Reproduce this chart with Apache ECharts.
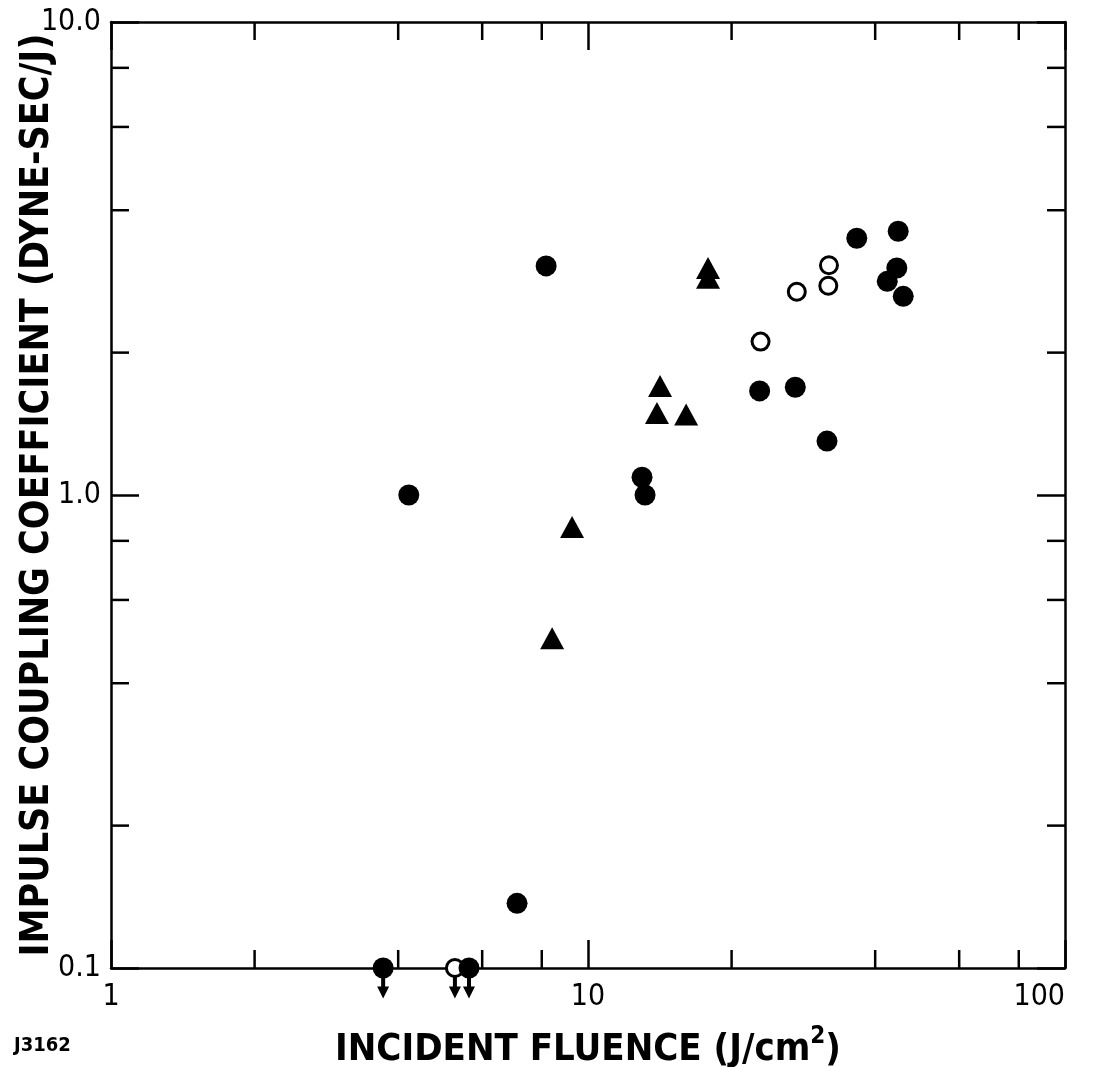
<!DOCTYPE html>
<html>
<head>
<meta charset="utf-8">
<script src="https://cdn.jsdelivr.net/npm/echarts@6/dist/echarts.min.js"></script>
<style>
html,body{margin:0;padding:0;background:#fff;}
#chart{width:1097px;height:1067px;}
</style>
</head>
<body>
<div id="chart"></div>
<script>
// ---- data ----
var filledCircles = [
  [4.21, 1.00], [8.17, 3.05], [7.10, 0.137], [3.72, 0.1], [5.63, 0.1],
  [12.98, 1.09], [13.17, 1.00], [22.9, 1.66], [27.2, 1.69], [31.7, 1.30],
  [36.6, 3.49], [44.7, 3.61], [42.4, 2.83], [44.4, 3.02], [45.8, 2.63]
];
var openCircles = [
  [23.0, 2.11], [27.4, 2.69], [32.0, 3.06], [31.9, 2.77], [5.26, 0.1]
];
var triangles = [
  [17.85, 3.02], [17.85, 2.88], [14.16, 1.70], [13.95, 1.49],
  [16.06, 1.48], [9.26, 0.856], [8.41, 0.498]
];
// points that are upper limits (drawn with a downward arrow)
var upperLimits = [[3.72, 0.1], [5.26, 0.1], [5.63, 0.1]];

var xMinorTicks = [2, 4, 6, 8, 20, 40, 60, 80];
var yMinorTicks = [0.2, 0.4, 0.6, 0.8, 2, 4, 6, 8];
var xRange = [1, 100];
var yRange = [0.1, 10];
var xTitle = 'INCIDENT FLUENCE (J/cm';
var yTitle = 'IMPULSE COUPLING COEFFICIENT (DYNE-SEC/J)';
var figureId = 'J3162';

// ---- chart ----
var FONT = 'DejaVu Sans Condensed';
var chart = echarts.init(document.getElementById('chart'), null, {renderer: 'canvas'});

var MINOR = 18;

function xTickRender(params, api) {
  var cs = params.coordSys;
  var x = api.coord([api.value(0), yRange[0]])[0];
  var st = {stroke: '#000', lineWidth: 2.5};
  return {
    type: 'group',
    children: [
      {type: 'line', shape: {x1: x, y1: cs.y + cs.height, x2: x, y2: cs.y + cs.height - MINOR}, style: st},
      {type: 'line', shape: {x1: x, y1: cs.y, x2: x, y2: cs.y + MINOR}, style: st}
    ]
  };
}
function yTickRender(params, api) {
  var cs = params.coordSys;
  var y = api.coord([xRange[0], api.value(1)])[1];
  var st = {stroke: '#000', lineWidth: 2.5};
  return {
    type: 'group',
    children: [
      {type: 'line', shape: {x1: cs.x, y1: y, x2: cs.x + MINOR, y2: y}, style: st},
      {type: 'line', shape: {x1: cs.x + cs.width, y1: y, x2: cs.x + cs.width - MINOR, y2: y}, style: st}
    ]
  };
}

var axisLineStyle = {show: true, lineStyle: {color: '#000', width: 2.5}};
var majorTick = {show: true, inside: true, length: 28, lineStyle: {color: '#000', width: 2.5}};

var arrowPath = 'path://M-2,0 L2,0 L2,19 L6,19 L0,31 L-6,19 L-2,19 Z';

chart.setOption({
  backgroundColor: '#fff',
  animation: false,
  grid: {left: 111, right: 32, top: 22, bottom: 99, containLabel: false, outerBoundsMode: 'none'},
  graphic: [{
    type: 'text', left: 14, top: 1036,
    style: {text: figureId, fontFamily: FONT, fontWeight: 'bold', fontSize: 20, fill: '#000'}
  }],
  xAxis: [{
    type: 'log', logBase: 10, min: xRange[0], max: xRange[1], position: 'bottom',
    axisLine: axisLineStyle, axisTick: majorTick, splitLine: {show: false}, minorTick: {show: false},
    axisLabel: {show: true, color: '#000', fontFamily: FONT, fontSize: 30, margin: 14,
      alignMaxLabel: 'right',
      formatter: function (v) { return String(Math.round(v)); }},
    name: '{t|' + xTitle + '}{s|2}{t|)}',
    nameLocation: 'middle', nameGap: 57, nameMoveOverlap: false,
    nameTextStyle: {
      rich: {
        t: {fontFamily: FONT, fontSize: 38, fontWeight: 'bold', color: '#000', verticalAlign: 'bottom', lineHeight: 44},
        s: {fontFamily: FONT, fontSize: 24, fontWeight: 'bold', color: '#000', verticalAlign: 'top', lineHeight: 44, padding: [0, 0, 22, 0]}
      }
    }
  }, {
    type: 'log', logBase: 10, min: xRange[0], max: xRange[1], position: 'top',
    axisLine: axisLineStyle, axisTick: majorTick, splitLine: {show: false},
    axisLabel: {show: false}
  }],
  yAxis: [{
    type: 'log', logBase: 10, min: yRange[0], max: yRange[1], position: 'left',
    axisLine: axisLineStyle, axisTick: majorTick, splitLine: {show: false}, minorTick: {show: false},
    axisLabel: {show: true, color: '#000', fontFamily: FONT, fontSize: 30, margin: 10,
      formatter: function (v) { return Number(v).toFixed(1); }},
    name: yTitle, nameLocation: 'middle', nameGap: 54, nameRotate: 90, nameMoveOverlap: false,
    nameTextStyle: {fontFamily: FONT, fontSize: 39, fontWeight: 'bold', color: '#000'}
  }, {
    type: 'log', logBase: 10, min: yRange[0], max: yRange[1], position: 'right',
    axisLine: axisLineStyle, axisTick: majorTick, splitLine: {show: false},
    axisLabel: {show: false}
  }],
  series: [
    {type: 'custom', xAxisIndex: 0, yAxisIndex: 0, renderItem: xTickRender, clip: false, silent: true,
      data: xMinorTicks.map(function (v) { return [v, yRange[0]]; })},
    {type: 'custom', xAxisIndex: 0, yAxisIndex: 0, renderItem: yTickRender, clip: false, silent: true,
      data: yMinorTicks.map(function (v) { return [xRange[0], v]; })},
    {type: 'scatter', name: 'limits', data: upperLimits, symbol: arrowPath, symbolSize: [12, 31],
      symbolOffset: [0, 15], symbolKeepAspect: false, clip: false, z: 3,
      itemStyle: {color: '#000', opacity: 1}},
    {type: 'scatter', name: 'filled', data: filledCircles, symbol: 'circle', symbolSize: 21, clip: false, z: 5,
      itemStyle: {color: '#000', opacity: 1}},
    {type: 'scatter', name: 'open', data: openCircles, symbol: 'circle', symbolSize: 17, clip: false, z: 4,
      itemStyle: {color: '#fff', borderColor: '#000', borderWidth: 3, opacity: 1}},
    {type: 'scatter', name: 'triangles', data: triangles, symbol: 'triangle', symbolSize: [24, 22], clip: false, z: 5,
      itemStyle: {color: '#000', opacity: 1}}
  ]
});
</script>
</body>
</html>
